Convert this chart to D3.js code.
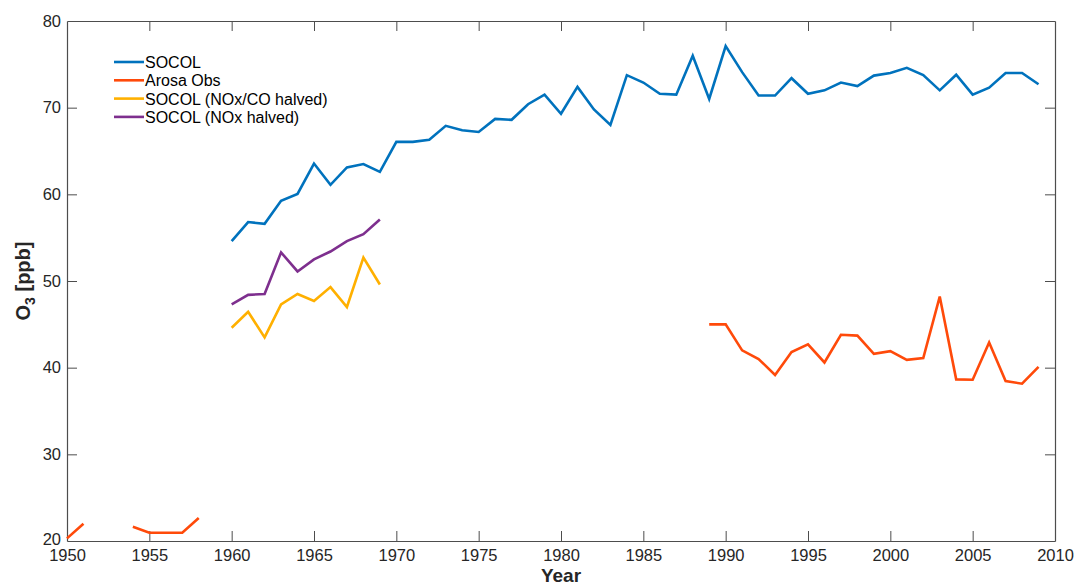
<!DOCTYPE html>
<html>
<head>
<meta charset="utf-8">
<script src="https://cdn.jsdelivr.net/npm/d3@7"></script>
<style>
  body { margin: 0; background: #fff; }
  svg { display: block; font-family: "Liberation Sans", Arial, sans-serif; }
</style>
</head>
<body>
<svg id="chart" width="1075" height="586"></svg>
<script>
// data (null = no value)
const socolYears = d3.range(1960, 2010);
const socol = [54.6, 56.8, 56.6, 59.25, 60.05, 63.55, 61.1, 63.1, 63.5, 62.6,
  66.05, 66.05, 66.3, 67.9, 67.4, 67.2, 68.7, 68.6, 70.4, 71.5,
  69.3, 72.4, 69.8, 68.0, 73.75, 72.9, 71.6, 71.5, 76.0, 71.0,
  77.1, 74.1, 71.4, 71.4, 73.4, 71.6, 72.0, 72.9, 72.5, 73.7,
  74.0, 74.6, 73.75, 72.0, 73.8, 71.5, 72.3, 74.0, 74.0, 72.7];

const arosaYears = d3.range(1950, 2010);
const arosa = [20.3, 22.0, null, null, 21.65, 20.95, 20.95, 20.95, 22.65, null,
  null, null, null, null, null, null, null, null, null, null,
  null, null, null, null, null, null, null, null, null, null,
  null, null, null, null, null, null, null, null, null, 45.0,
  45.0, 42.0, 41.0, 39.15, 41.8, 42.7, 40.6, 43.8, 43.7, 41.6,
  41.9, 40.9, 41.1, 48.2, 38.65, 38.6, 42.9, 38.45, 38.15, 40.1];

const sensYears = d3.range(1960, 1970);
const noxCoHalved = [44.6, 46.45, 43.5, 47.3, 48.5, 47.7, 49.3, 47.0, 52.7, 49.6];
const noxHalved = [47.3, 48.4, 48.5, 53.3, 51.1, 52.5, 53.4, 54.6, 55.4, 57.1];

const seriesNames = ["SOCOL", "Arosa Obs", "SOCOL (NOx/CO halved)", "SOCOL (NOx halved)"];
const seriesColors = ["#0072BD", "#FF4A0A", "#FFB000", "#7E2F8E"];

const xTicks = d3.range(1950, 2011, 5);
const yTicks = d3.range(20, 81, 10);

const series = [
  { years: socolYears, values: socol },
  { years: arosaYears, values: arosa },
  { years: sensYears, values: noxCoHalved },
  { years: sensYears, values: noxHalved }
];

const svg = d3.select("#chart");
const plotLeft = 67, plotRight = 1055, plotTop = 21, plotBottom = 541;

const x = d3.scaleLinear().domain([1950, 2010]).range([plotLeft, plotRight]);
const y = d3.scaleLinear().domain([20, 80]).range([plotBottom, plotTop]);

const axisColor = "#4d4d4d";
const tickLen = 10;

// axes with inward ticks on all four sides
const gx = svg.append("g").attr("transform", `translate(0,${plotBottom})`)
  .call(d3.axisBottom(x).tickValues(xTicks).tickFormat(d3.format("d")).tickSizeInner(-tickLen).tickSizeOuter(0).tickPadding(8));
const gxTop = svg.append("g").attr("transform", `translate(0,${plotTop})`)
  .call(d3.axisTop(x).tickValues(xTicks).tickFormat("").tickSizeInner(-tickLen).tickSizeOuter(0));
const gy = svg.append("g").attr("transform", `translate(${plotLeft},0)`)
  .call(d3.axisLeft(y).tickValues(yTicks).tickSizeInner(-tickLen).tickSizeOuter(0).tickPadding(6));
const gyRight = svg.append("g").attr("transform", `translate(${plotRight},0)`)
  .call(d3.axisRight(y).tickValues(yTicks).tickFormat("").tickSizeInner(-tickLen).tickSizeOuter(0));

[gx, gxTop, gy, gyRight].forEach(g => {
  g.select(".domain").attr("stroke", axisColor).attr("stroke-width", 1.2);
  g.selectAll(".tick line").attr("stroke", axisColor).attr("stroke-width", 1);
  g.selectAll(".tick text").attr("fill", "#262626").attr("font-size", 16.5)
    .attr("font-family", "Liberation Sans, Arial, sans-serif");
});
// the lowest y label sits a bit higher so it clears the 1950 label
gy.selectAll(".tick").filter(d => d === 20).select("text").attr("dy", "0.2em");
// hide end ticks that sit on the frame
gx.selectAll(".tick").filter(d => d === 1950 || d === 2010).select("line").remove();
gxTop.selectAll(".tick").filter(d => d === 1950 || d === 2010).select("line").remove();
gy.selectAll(".tick").filter(d => d === 20 || d === 80).select("line").remove();
gyRight.selectAll(".tick").filter(d => d === 20 || d === 80).select("line").remove();

// lines
const line = d3.line()
  .defined(d => d[1] !== null)
  .x(d => x(d[0]))
  .y(d => y(d[1]));

series.forEach((s, i) => {
  svg.append("path")
    .datum(s.years.map((yr, j) => [yr, s.values[j]]))
    .attr("fill", "none")
    .attr("stroke", seriesColors[i])
    .attr("stroke-width", 2.6)
    .attr("stroke-linejoin", "miter")
    .attr("d", line);
});

// legend
const legend = svg.append("g").attr("transform", "translate(114,62)");
seriesNames.forEach((name, i) => {
  const row = legend.append("g").attr("transform", `translate(0,${i * 18.3})`);
  row.append("line").attr("x1", 0).attr("x2", 30).attr("y1", 0).attr("y2", 0)
    .attr("stroke", seriesColors[i]).attr("stroke-width", 2.6);
  row.append("text").attr("x", 31).attr("y", 6)
    .attr("font-size", 16).attr("fill", "#000").text(name);
});

// axis labels
svg.append("text")
  .attr("x", (plotLeft + plotRight) / 2).attr("y", 582)
  .attr("text-anchor", "middle").attr("font-size", 19).attr("font-weight", "bold")
  .attr("fill", "#262626").text("Year");

const yl = svg.append("text")
  .attr("transform", `translate(30,${(plotTop + plotBottom) / 2}) rotate(-90)`)
  .attr("text-anchor", "middle").attr("font-size", 20).attr("font-weight", "bold")
  .attr("fill", "#262626");
yl.append("tspan").text("O");
yl.append("tspan").attr("font-size", 14).attr("dy", 5).text("3");
yl.append("tspan").attr("dy", -5).text(" [ppb]");
</script>
</body>
</html>
